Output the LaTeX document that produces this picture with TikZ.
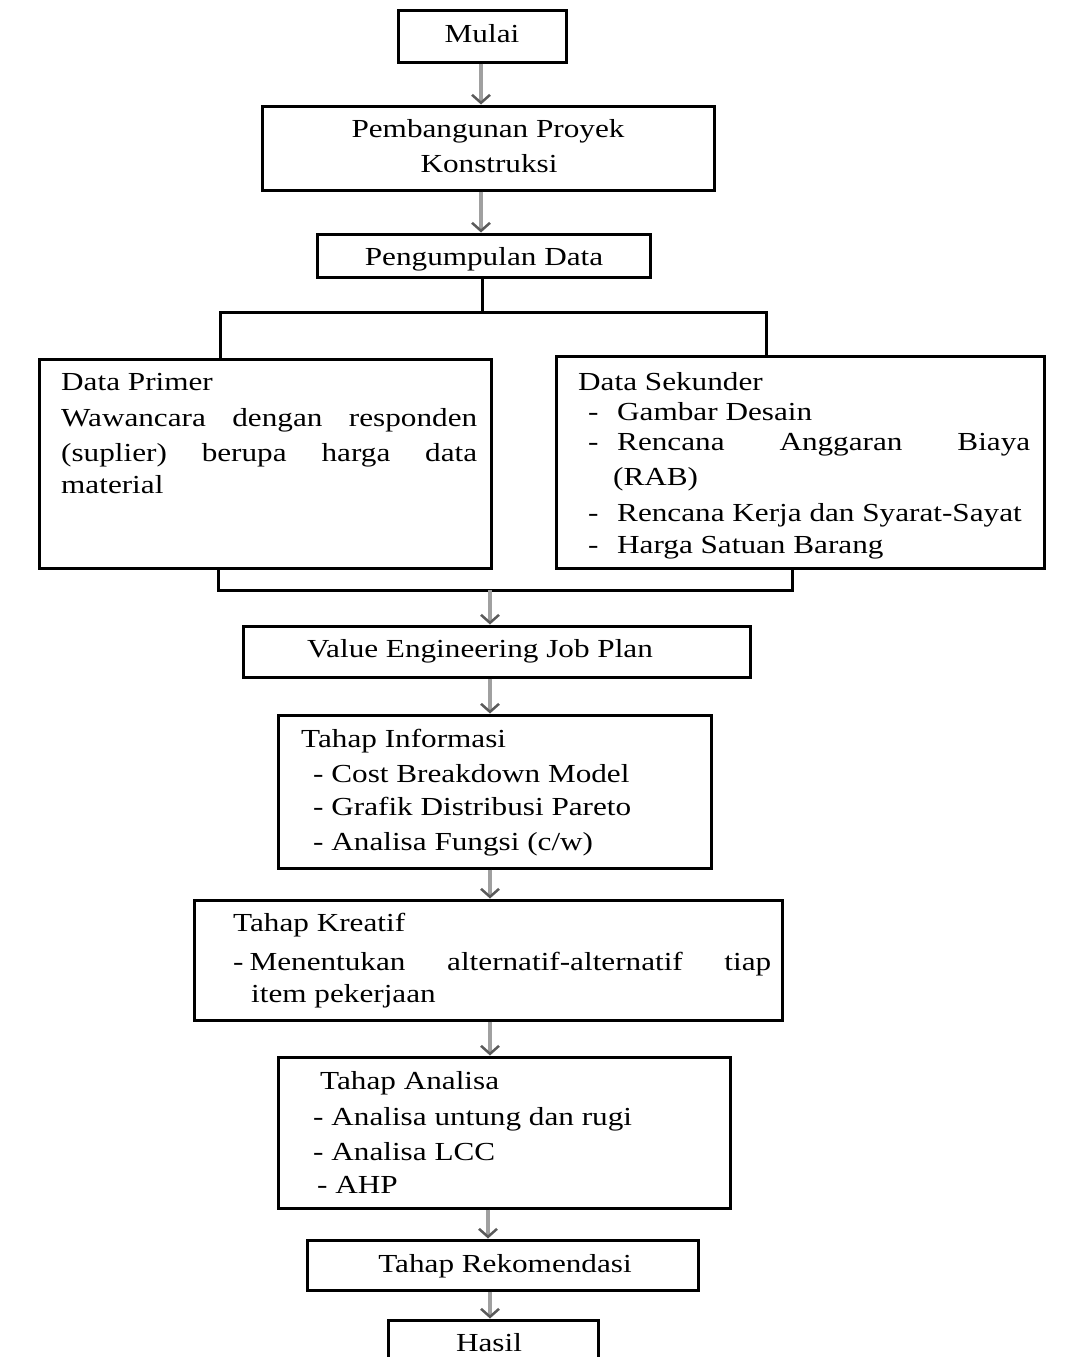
\documentclass[tikz,border=0pt]{standalone}
\usepackage{fontspec}
\setmainfont{Liberation Serif}[FakeStretch=1.2]
\usetikzlibrary{arrows.meta}
\definecolor{shaft}{RGB}{160,160,160}
\definecolor{headc}{RGB}{90,90,90}
\tikzset{
  box/.style={draw=black, line width=3pt, rectangle, inner sep=0pt},
  conn/.style={draw=black, line width=3pt},
  arr/.style={draw=shaft, line width=3.5pt, -{Straight Barb[length=8pt,width=18pt,line width=2.5pt,color=headc]}},
  txt/.style={anchor=base west, inner sep=0pt, font=\fontsize{26}{35}\selectfont},
  ctxt/.style={anchor=base, inner sep=0pt, font=\fontsize{26}{35}\selectfont}
}
\begin{document}
\begin{tikzpicture}[x=1pt, y=-1pt]
\clip (0,0) rectangle (1066,1357);
\fill[white] (0,0) rectangle (1066,1357);
% boxes
\node[box, minimum width=168, minimum height=52] (mulai) at (482,36) {};
\node[box, minimum width=452, minimum height=84] (pemb) at (488,148) {};
\node[box, minimum width=333, minimum height=43] (peng) at (483.5,255.5) {};
\node[box, minimum width=452, minimum height=209] (primer) at (265,463.5) {};
\node[box, minimum width=488, minimum height=212] (sekunder) at (800,462) {};
\node[box, minimum width=507, minimum height=51] (ve) at (496.5,651.5) {};
\node[box, minimum width=433, minimum height=153] (info) at (494.5,791.5) {};
\node[box, minimum width=588, minimum height=120] (kreatif) at (488,960) {};
\node[box, minimum width=452, minimum height=151] (analisa) at (504,1132.5) {};
\node[box, minimum width=391, minimum height=50] (rekom) at (502.5,1265) {};
\node[box, minimum width=210, minimum height=55] (hasil) at (493,1347.5) {};
% columns / junctions
\coordinate (colA) at (481,0);
\coordinate (colB) at (490,0);
\coordinate (colC) at (488,0);
\coordinate (split) at (482,312);
\coordinate (jl) at (220,312);
\coordinate (jr) at (766,312);
\coordinate (bl) at (218,590);
\coordinate (br) at (792,590);
\coordinate (bm) at (490,590);
% connectors
\draw[arr] (mulai.south -| colA) -- (pemb.north -| colA);
\draw[arr] (pemb.south -| colA) -- (peng.north -| colA);
\draw[conn] (peng.south -| split) -- (split);
\draw[conn] (jl |- primer.north) -- (jl) -- (jr) -- (jr |- sekunder.north);
\draw[conn] (bl |- primer.south) -- (bl) -- (br) -- (br |- sekunder.south);
\draw[arr] (bm) -- (bm |- ve.north);
\draw[arr] (ve.south -| colB) -- (info.north -| colB);
\draw[arr] (info.south -| colB) -- (kreatif.north -| colB);
\draw[arr] (kreatif.south -| colB) -- (analisa.north -| colB);
\draw[arr] (analisa.south -| colC) -- (rekom.north -| colC);
\draw[arr] (rekom.south -| colB) -- (hasil.north -| colB);
% texts
\node[ctxt] (tmulai) at (482,42) {Mulai};
\node[ctxt] (tpemb1) at (488,137) {Pembangunan Proyek};
\node[ctxt] (tpemb2) at (489,172) {Konstruksi};
\node[ctxt] (tpeng) at (484,265) {Pengumpulan Data};
\node[txt] (tp0) at (61,390) {Data Primer};
\node[txt] (tp1) at (61,426) {\makebox[416pt][s]{Wawancara dengan responden}};
\node[txt] (tp2) at (61,461) {\makebox[416pt][s]{(suplier) berupa harga data}};
\node[txt] (tp3) at (61,493) {material};
\node[txt] (ts0) at (578,390) {Data Sekunder};
\node[txt] (tsd1) at (588,420) {-};
\node[txt] (ts1) at (617,420) {Gambar Desain};
\node[txt] (tsd2) at (588,450) {-};
\node[txt] (ts2) at (617,450) {\makebox[413pt][s]{Rencana Anggaran Biaya}};
\node[txt] (ts2b) at (613,485) {(RAB)};
\node[txt] (tsd3) at (588,521) {-};
\node[txt] (ts3) at (617,521) {Rencana Kerja dan Syarat-Sayat};
\node[txt] (tsd4) at (588,553) {-};
\node[txt] (ts4) at (617,553) {Harga Satuan Barang};
\node[ctxt] (tve) at (480,657) {Value Engineering Job Plan};
\node[txt] (ti0) at (301,747) {Tahap Informasi};
\node[txt] (ti1) at (313,782) {- Cost Breakdown Model};
\node[txt] (ti2) at (313,815) {- Grafik Distribusi Pareto};
\node[txt] (ti3) at (313,850) {- Analisa Fungsi (c/w)};
\node[txt] (tk0) at (233,931) {Tahap Kreatif};
\node[txt] (tk1) at (233,970) {\makebox[538pt][s]{-\hspace{6pt}Menentukan alternatif-alternatif tiap}};
\node[txt] (tk2) at (251,1002) {item pekerjaan};
\node[txt] (ta0) at (320,1089) {Tahap Analisa};
\node[txt] (ta1) at (313,1125) {- Analisa untung dan rugi};
\node[txt] (ta2) at (313,1160) {- Analisa LCC};
\node[txt] (ta3) at (317,1193) {- AHP};
\node[ctxt] (trek) at (505,1272) {Tahap Rekomendasi};
\node[ctxt] (thasil) at (489,1351) {Hasil};
\end{tikzpicture}
\end{document}
